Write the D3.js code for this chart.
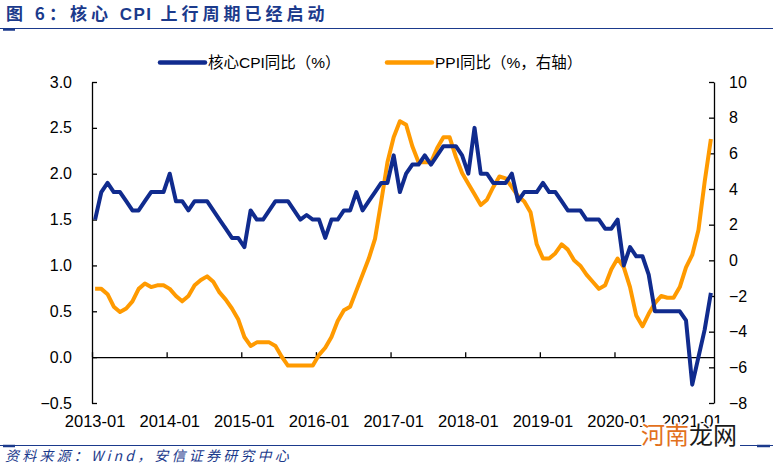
<!DOCTYPE html>
<html><head><meta charset="utf-8">
<script src="https://cdn.jsdelivr.net/npm/d3@7"></script>
<style>
body{margin:0;background:#fff}
text{font-family:"Liberation Sans",Arial,sans-serif}
</style>
</head><body><svg id="c" width="773" height="466"></svg>
<script>
// ---- data ----
const years = [2013,2014,2015,2016,2017,2018,2019,2020,2021];
const months = [];
years.forEach(y => { for (let m = 1; m <= 12; m++) { if (y === 2021 && m > 4) break; months.push(y + "-" + String(m).padStart(2, "0")); } });

const coreCPI = [
  1.5, 1.8, 1.9, 1.8, 1.8, 1.7, 1.6, 1.6, 1.7, 1.8, 1.8, 1.8,
  2.0, 1.7, 1.7, 1.6, 1.7, 1.7, 1.7, 1.6, 1.5, 1.4, 1.3, 1.3,
  1.2, 1.6, 1.5, 1.5, 1.6, 1.7, 1.7, 1.7, 1.6, 1.5, 1.55, 1.5,
  1.5, 1.3, 1.5, 1.5, 1.6, 1.6, 1.8, 1.6, 1.7, 1.8, 1.9, 1.9,
  2.2, 1.8, 2.0, 2.1, 2.1, 2.2, 2.1, 2.2, 2.3, 2.3, 2.3, 2.2,
  2.0, 2.5, 2.0, 2.0, 1.9, 1.9, 1.9, 2.0, 1.7, 1.8, 1.8, 1.8,
  1.9, 1.8, 1.8, 1.7, 1.6, 1.6, 1.6, 1.5, 1.5, 1.5, 1.4, 1.4,
  1.5, 1.0, 1.2, 1.1, 1.1, 0.9, 0.5, 0.5, 0.5, 0.5, 0.5, 0.4,
  -0.3, 0.0, 0.3, 0.7
];
const ppi = [
  -1.6, -1.6, -1.9, -2.6, -2.9, -2.7, -2.3, -1.6, -1.3, -1.5, -1.4, -1.4,
  -1.6, -2.0, -2.3, -2.0, -1.4, -1.1, -0.9, -1.2, -1.8, -2.2, -2.7, -3.3,
  -4.3, -4.8, -4.6, -4.6, -4.6, -4.8, -5.4, -5.9, -5.9, -5.9, -5.9, -5.9,
  -5.3, -4.9, -4.3, -3.4, -2.8, -2.6, -1.7, -0.8, 0.1, 1.2, 3.3, 5.5,
  6.9, 7.8, 7.6, 6.4, 5.5, 5.5, 5.5, 6.3, 6.9, 6.9, 5.8, 4.9,
  4.3, 3.7, 3.1, 3.4, 4.1, 4.7, 4.6, 4.1, 3.6, 3.3, 2.7, 0.9,
  0.1, 0.1, 0.4, 0.9, 0.6, 0.0, -0.3, -0.8, -1.2, -1.6, -1.4, -0.5,
  0.1, -0.4, -1.5, -3.1, -3.7, -3.0, -2.4, -2.0, -2.1, -2.1, -1.5, -0.4,
  0.3, 1.7, 4.4, 6.8
];
const leftTicks = [-0.5, 0, 0.5, 1.0, 1.5, 2.0, 2.5, 3.0];
const rightTicks = [-8, -6, -4, -2, 0, 2, 4, 6, 8, 10];
const xTickLabels = ["2013-01","2014-01","2015-01","2016-01","2017-01","2018-01","2019-01","2020-01","2021-01"];
const seriesNames = ["核心CPI同比（%）", "PPI同比（%，右轴）"];
const titleParts = ["图 6：核心 ", "CPI", " 上行周期已经启动"];
const sourceText = "资料来源：Wind，安信证券研究中心";

// ---- drawing ----
const svg = d3.select("#c");
const BLUE = "#102B8E", ORANGE = "#FF9A00", NAVY = "#1B3A8C";
const L = 92, R = 714, T = 82, B = 403;

const x = d3.scaleBand().domain(months).range([L, R]).paddingInner(0).paddingOuter(0);
const xe = d3.scaleLinear().domain([0, months.length]).range([L, R]);
const yL = d3.scaleLinear().domain([-0.5, 3]).range([B, T]);
const yR = d3.scaleLinear().domain([-8, 10]).range([B, T]);

// title
const tt = svg.append("text").attr("x", 6).attr("y", 20)
  .style("font-family", '"Noto Sans CJK SC",sans-serif').style("font-weight", "bold")
  .style("font-size", "17px").attr("fill", NAVY);
tt.append("tspan").style("letter-spacing", "4px").text(titleParts[0]);
tt.append("tspan").style("letter-spacing", "1.5px").style("font-family", '"Liberation Sans",Arial,sans-serif').text(titleParts[1]);
tt.append("tspan").style("letter-spacing", "4px").text(titleParts[2]);
svg.append("line").attr("x1", 0).attr("x2", 773).attr("y1", 28.5).attr("y2", 28.5).attr("stroke", NAVY).attr("stroke-width", 1.2);
svg.append("line").attr("x1", 3).attr("x2", 15).attr("y1", 29.5).attr("y2", 29.5).attr("stroke", NAVY).attr("stroke-width", 2.5);

// legend
const leg = [{name: seriesNames[0], c: BLUE, x: 160}, {name: seriesNames[1], c: ORANGE, x: 387}];
leg.forEach(d => {
  svg.append("line").attr("x1", d.x).attr("x2", d.x + 45).attr("y1", 62.5).attr("y2", 62.5)
    .attr("stroke", d.c).attr("stroke-width", 4.5).attr("stroke-linecap", "round");
  svg.append("text").attr("x", d.x + 48).attr("y", 68).style("font-size", "15.5px")
    .style("font-family", '"Liberation Sans","Noto Sans CJK SC",sans-serif').attr("fill", "#000").text(d.name);
});

// left axis
const gL = svg.append("g").attr("transform", `translate(${L},0)`)
  .call(d3.axisLeft(yL).tickValues(leftTicks).tickFormat(d3.format(".1f")).tickSizeInner(-5).tickSizeOuter(0).tickPadding(20));
// right axis
const gR = svg.append("g").attr("transform", `translate(${R},0)`)
  .call(d3.axisRight(yR).tickValues(rightTicks).tickFormat(d3.format("d")).tickSizeInner(-5).tickSizeOuter(0).tickPadding(15));
// zero line with year ticks
const gZ = svg.append("g").attr("transform", `translate(0,${yL(0)})`)
  .call(d3.axisBottom(xe).tickValues(d3.range(0, months.length, 12)).tickFormat("").tickSizeInner(-5).tickSizeOuter(0));
// x labels
const gX = svg.append("g").attr("transform", `translate(0,${B})`)
  .call(d3.axisBottom(x).tickValues(xTickLabels).tickSize(0).tickPadding(12));
gX.select(".domain").remove();

[gL, gR, gZ].forEach(g => {
  g.selectAll("path,line").attr("stroke", "#000").attr("stroke-width", 1.3);
});
[gL, gR].forEach(g => g.selectAll("text").style("font-size", "16px").attr("fill", "#000")
  .style("font-family", '"Liberation Sans",Arial,sans-serif'));
gX.selectAll("text").style("font-size", "16.5px").attr("fill", "#000")
  .style("font-family", '"Liberation Sans",Arial,sans-serif');

// lines
const cx = (d, i) => x(months[i]) + x.bandwidth() / 2;
svg.append("path").datum(ppi).attr("fill", "none").attr("stroke", ORANGE).attr("stroke-width", 4)
  .attr("stroke-linejoin", "round").attr("d", d3.line().x(cx).y(d => yR(d)));
svg.append("path").datum(coreCPI).attr("fill", "none").attr("stroke", BLUE).attr("stroke-width", 4)
  .attr("stroke-linejoin", "round").attr("d", d3.line().x(cx).y(d => yL(d)));

// footer
svg.append("line").attr("x1", 0).attr("x2", 643).attr("y1", 445.5).attr("y2", 445.5).attr("stroke", NAVY).attr("stroke-width", 1.2);
svg.append("line").attr("x1", 740).attr("x2", 773).attr("y1", 445.5).attr("y2", 445.5).attr("stroke", NAVY).attr("stroke-width", 1.2);
svg.append("line").attr("x1", 3).attr("x2", 15).attr("y1", 446).attr("y2", 446).attr("stroke", NAVY).attr("stroke-width", 2.5);
svg.append("line").attr("x1", 757).attr("x2", 770).attr("y1", 446).attr("y2", 446).attr("stroke", NAVY).attr("stroke-width", 2.5);
svg.append("text").attr("x", 5).attr("y", 461)
  .style("font-family", '"Noto Sans CJK SC",sans-serif').style("font-style", "italic")
  .style("font-size", "14px").style("letter-spacing", "3.2px").attr("fill", NAVY).text(sourceText);

// watermark
const wm = svg.append("text").attr("x", 641).attr("y", 444)
  .style("font-family", '"Noto Sans CJK SC",sans-serif').style("font-size", "24px")
  .attr("stroke", "#fff").attr("stroke-width", 3).attr("paint-order", "stroke");
wm.append("tspan").attr("fill", "#E2711D").text("河南");
wm.append("tspan").attr("fill", "#1a1a1a").text("龙网");
</script>
</body></html>
